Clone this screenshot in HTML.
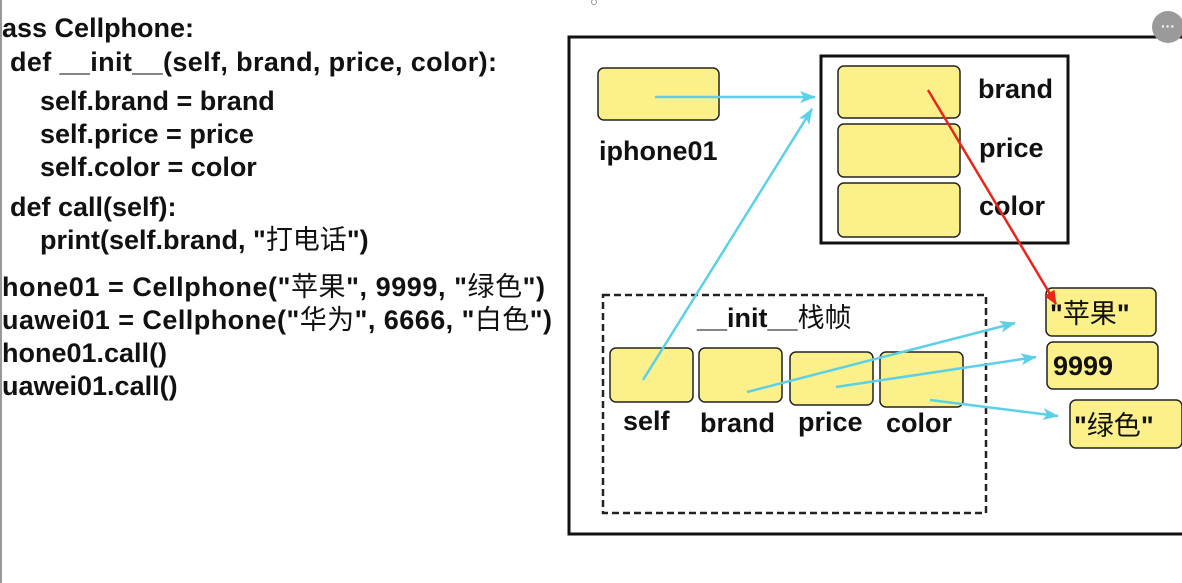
<!DOCTYPE html>
<html><head><meta charset="utf-8"><style>
html,body{margin:0;padding:0;background:#fff;}
svg{display:block}
text{font-family:"Liberation Sans","Noto Sans CJK SC",sans-serif;font-weight:bold;fill:#111;}
.c{font-family:"Noto Sans CJK SC",sans-serif;font-weight:normal;}
</style></head><body>
<svg width="1182" height="583" viewBox="0 0 1182 583" xmlns="http://www.w3.org/2000/svg">
<defs>
<marker id="ac" markerWidth="16" markerHeight="12" refX="15" refY="6" orient="auto" markerUnits="userSpaceOnUse"><path d="M0,0 L16,6 L0,12 L4,6z" fill="#5cd0e6"/></marker>
<marker id="ar" markerWidth="14" markerHeight="12" refX="13" refY="6" orient="auto" markerUnits="userSpaceOnUse"><path d="M0,0 L14,6 L0,12z" fill="#e8261a"/></marker>
</defs>
<rect x="0" y="0" width="2" height="583" fill="#999"/>
<g font-size="27">
<text x="2" y="37">ass Cellphone:</text>
<text x="10" y="71" textLength="487">def __init__(self, brand, price, color):</text>
<text x="40" y="110">self.brand = brand</text>
<text x="40" y="143">self.price = price</text>
<text x="40" y="176">self.color = color</text>
<text x="10" y="216">def call(self):</text>
<text x="40" y="249">print(self.brand, "<tspan class="c">打电话</tspan>")</text>
<text x="2" y="296" textLength="543">hone01 = Cellphone("<tspan class="c">苹果</tspan>", 9999, "<tspan class="c">绿色</tspan>")</text>
<text x="2" y="329" textLength="550">uawei01 = Cellphone("<tspan class="c">华为</tspan>", 6666, "<tspan class="c">白色</tspan>")</text>
<text x="2" y="362">hone01.call()</text>
<text x="2" y="395">uawei01.call()</text>
</g>
<circle cx="594" cy="2" r="2.5" fill="none" stroke="#999"/>
<rect x="569" y="37" width="640" height="497" fill="none" stroke="#111" stroke-width="3"/>
<rect x="821" y="56" width="247" height="187" fill="none" stroke="#111" stroke-width="3"/>
<g fill="#fbf08a" stroke="#222" stroke-width="1.5">
<rect x="598" y="68" width="121" height="52" rx="6"/>
<rect x="838" y="66" width="122" height="52" rx="6"/>
<rect x="838" y="124" width="122" height="53" rx="6"/>
<rect x="838" y="183" width="122" height="54" rx="6"/>
<rect x="610" y="348" width="83" height="54" rx="6"/>
<rect x="699" y="348" width="83" height="54" rx="6"/>
<rect x="790" y="352" width="83" height="53" rx="6"/>
<rect x="880" y="352" width="83" height="55" rx="6"/>
<rect x="1046" y="288" width="110" height="48" rx="6"/>
<rect x="1047" y="342" width="111" height="47" rx="6"/>
<rect x="1070" y="400" width="112" height="48" rx="6"/>
</g>
<rect x="603" y="295" width="383" height="218" fill="none" stroke="#222" stroke-width="2.5" stroke-dasharray="7,4"/>
<g font-size="27">
<text x="978" y="98">brand</text>
<text x="979" y="157">price</text>
<text x="979" y="215">color</text>
<text x="599" y="160">iphone01</text>
<text x="697" y="327">__init__<tspan class="c">栈帧</tspan></text>
<text x="623" y="430">self</text>
<text x="700" y="432">brand</text>
<text x="798" y="431">price</text>
<text x="886" y="432">color</text>
<text x="1050" y="323">"<tspan class="c">苹果</tspan>"</text>
<text x="1053" y="375">9999</text>
<text x="1074" y="435">"<tspan class="c">绿色</tspan>"</text>
</g>
<g stroke="#5cd0e6" stroke-width="2.5" fill="none" marker-end="url(#ac)">
<line x1="655" y1="97" x2="815" y2="97"/>
<line x1="643" y1="380" x2="812" y2="109"/>
<line x1="747" y1="392" x2="1015" y2="323"/>
<line x1="836" y1="387" x2="1036" y2="357"/>
<line x1="930" y1="400" x2="1058" y2="416"/>
</g>
<line x1="928" y1="90" x2="1056" y2="304" stroke="#e8261a" stroke-width="2.5" marker-end="url(#ar)"/>
<circle cx="1168" cy="27" r="16" fill="#9a9a9a"/>
<text x="1168" y="31" font-size="14" text-anchor="middle" style="fill:#fff">···</text>
</svg>
</body></html>
